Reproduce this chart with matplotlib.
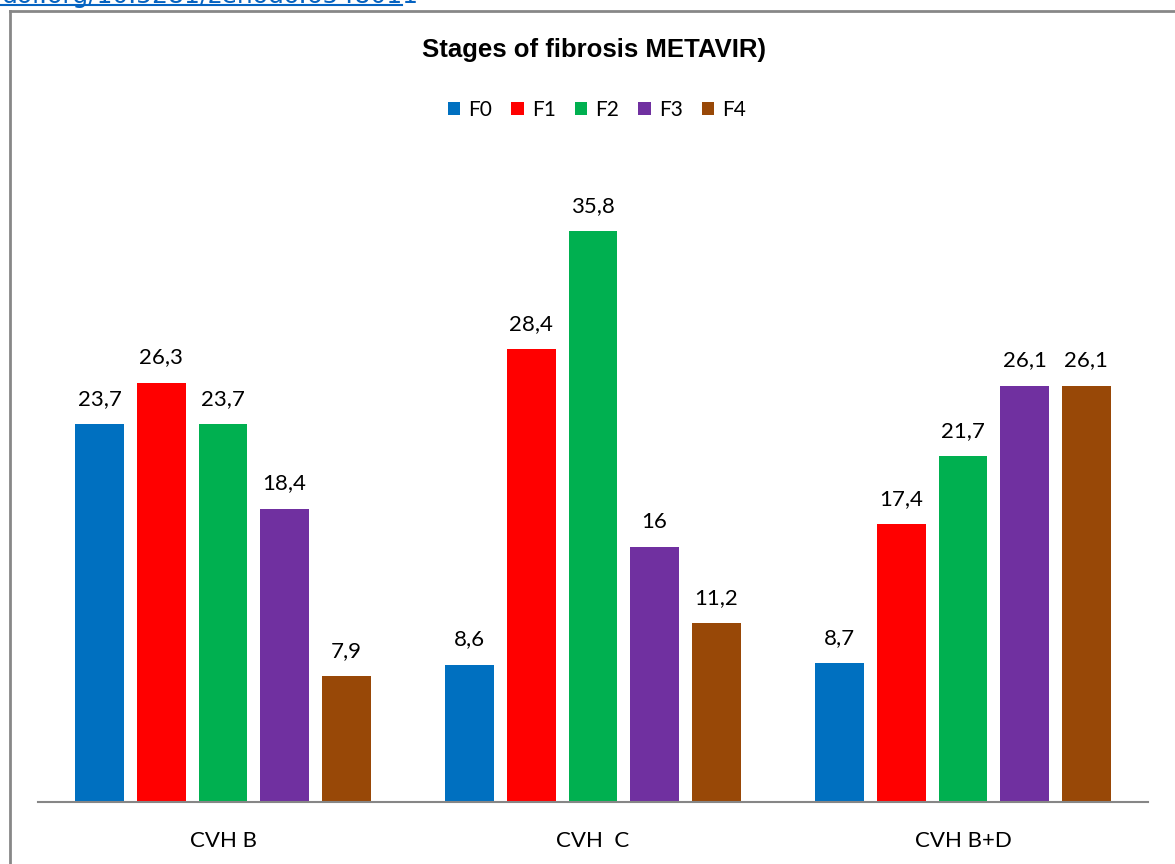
import matplotlib
matplotlib.use("Agg")
import matplotlib.pyplot as plt
import numpy as np
from matplotlib.lines import Line2D
from matplotlib.patches import Patch

groups = ["CVH B", "CVH  C", "CVH B+D"]
stages = ["F0", "F1", "F2", "F3", "F4"]
values = {
    "F0": [23.7, 8.6, 8.7],
    "F1": [26.3, 28.4, 17.4],
    "F2": [23.7, 35.8, 21.7],
    "F3": [18.4, 16.0, 26.1],
    "F4": [7.9, 11.2, 26.1],
}
colors = ["#0070C0", "#FF0000", "#00B050", "#7030A0", "#984807"]
title = "Stages of fibrosis METAVIR)"
link_text = "doi.org/10.5281/zenodo.6548011"

W, H = 1175, 864
fig = plt.figure(figsize=(W / 100, H / 100), dpi=100)
fig.patch.set_facecolor("white")

label_font = ["Lato", "DejaVu Sans"]
title_font = ["Liberation Sans Narrow", "Liberation Sans", "DejaVu Sans"]

# outer frame of the chart area (left and top edges)
fig.add_artist(Line2D([9.5 / W, 9.5 / W], [0, 1 - 10.5 / H], color="#878787", lw=2))
fig.add_artist(Line2D([9.5 / W, 1], [1 - 10.5 / H, 1 - 10.5 / H], color="#878787", lw=2))

# hyperlink line running off the top edge
fig.text(2 / W, 1 + 4 / H, link_text, color="#0563C1", fontsize=18,
         family=["DejaVu Sans"], va="center", ha="left")
fig.add_artist(Line2D([0, 402 / W], [1 - 5 / H, 1 - 5 / H], color="#0563C1", lw=1.5))

ymax = 40.0
px_per_unit = 15.95
ax_bottom = 802
ax_top = ax_bottom - ymax * px_per_unit
ax = fig.add_axes([38 / W, (H - ax_bottom) / H, 1110 / W, (ax_bottom - ax_top) / H])

x = np.arange(len(groups))
bw = 0.1324
step = 0.1665
for i, (s, c) in enumerate(zip(stages, colors)):
    pos = x + (i - 2) * step
    bars = ax.bar(pos, values[s], width=bw, color=c, label=s, zorder=2)
    for b, v in zip(bars, values[s]):
        txt = f"{v:g}".replace(".", ",")
        ax.annotate(txt, (b.get_x() + b.get_width() / 2, v), xytext=(0, 11),
                    textcoords="offset points", ha="center", va="bottom",
                    fontsize=16, family=label_font, color="black")

ax.set_xlim(-0.5, 2.5)
ax.set_ylim(0, ymax)
ax.set_yticks([])
ax.set_xticks(x)
ax.set_xticklabels(groups, fontsize=16, family=label_font)
ax.tick_params(axis="x", length=0, pad=21)
for sp in ["top", "right", "left"]:
    ax.spines[sp].set_visible(False)
ax.spines["bottom"].set_color("#868686")
ax.spines["bottom"].set_linewidth(1.5)
ax.set_facecolor("none")

fig.text(594 / W, 1 - 50 / H, title, ha="center", va="center", fontsize=18.5,
         fontweight="bold", family=title_font)

handles = [Patch(facecolor=c, edgecolor="none") for c in colors]
fig.legend(handles, stages, loc="center", bbox_to_anchor=(597 / W, 1 - 110 / H),
           ncol=5, frameon=False, handlelength=0.6, handleheight=0.6,
           handletextpad=0.4, columnspacing=0.9,
           prop={"family": label_font, "size": 15})

fig.savefig("out.png", dpi=100, facecolor="white")
